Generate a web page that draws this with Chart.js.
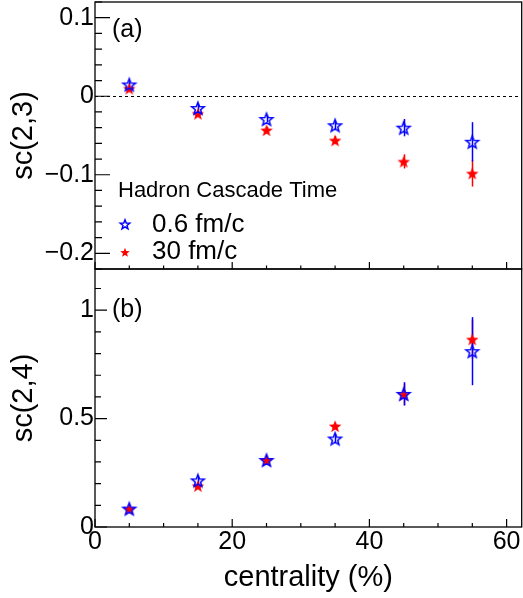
<!DOCTYPE html>
<html><head><meta charset="utf-8">
<script src="https://cdn.jsdelivr.net/npm/chart.js@4/dist/chart.umd.min.js"></script>
<style>
html,body{margin:0;padding:0;background:#fff;}
#wrap{position:relative;width:523px;height:598px;overflow:hidden;background:#fff;}
#c1{position:absolute;left:0;top:0;}
#c2{position:absolute;left:0;top:266px;}
</style></head><body>
<div id="wrap">
<canvas id="c1" width="523" height="272" style="width:523px;height:272px"></canvas>
<canvas id="c2" width="523" height="332" style="width:523px;height:332px"></canvas>
</div>
<script>
// ---- data ----
const centrality = [5, 15, 25, 35, 45, 55];
const seriesNames = ['0.6 fm/c', '30 fm/c'];
const legendTitle = 'Hadron Cascade Time';
// panel (a): sc(2,3)
const sc23_06 = [0.015, -0.015, -0.029, -0.037, -0.040, -0.058];
const sc23_06_err = [0.004, 0.004, 0.004, 0.005, 0.011, 0.025];
const sc23_30 = [0.010, -0.022, -0.043, -0.056, -0.083, -0.098];
const sc23_30_err = [0.003, 0.003, 0.004, 0.005, 0.009, 0.017];
// panel (b): sc(2,4)
const sc24_06 = [0.085, 0.215, 0.309, 0.408, 0.614, 0.811];
const sc24_06_err = [0.010, 0.015, 0.010, 0.020, 0.054, 0.157];
const sc24_30 = [0.084, 0.190, 0.309, 0.466, 0.612, 0.866];
const sc24_30_err = [0.006, 0.010, 0.010, 0.012, 0.050, 0.090];
// axes
const xMajorLabels = [0, 20, 40, 60];
const yMajorA = [-0.2, -0.1, 0, 0.1];
const yMajorB = [0, 0.5, 1];

const FONT = '"Liberation Sans", Arial, Helvetica, sans-serif';
Chart.defaults.font.family = FONT;
Chart.defaults.color = '#000';

const BLUE = '#0000ff', RED = '#ff0000';

function makeStar(R, color, filled) {
  const s = Math.ceil(2 * R + 4);
  const c = document.createElement('canvas');
  c.width = s; c.height = s;
  const g = c.getContext('2d');
  g.beginPath();
  for (let k = 0; k < 10; k++) {
    const r = (k % 2) ? R * 0.42 : R;
    const ang = -Math.PI / 2 + k * Math.PI / 5;
    g.lineTo(s / 2 + r * Math.cos(ang), s / 2 + 0.8 + r * Math.sin(ang));
  }
  g.closePath();
  if (filled) { g.fillStyle = color; g.fill(); }
  else { g.strokeStyle = color; g.lineWidth = 1.5; g.stroke(); }
  return c;
}
const starBlue = makeStar(6.6, BLUE, false);
const starRed = makeStar(6.6, RED, true);
const starBlueL = makeStar(5, BLUE, false);
const starRedL = makeStar(5, RED, true);

function pts(ys) { return centrality.map((x, i) => ({x: x, y: ys[i]})); }
function fmt(v) {
  const r = Math.round(v * 100) / 100;
  if (r === 0) return '0';
  return (r < 0 ? '\u2212' : '') + String(Math.abs(r));
}
function isIn(v, list) { return list.some(m => Math.abs(m - v) < 1e-6); }
function noPad(s) { s.paddingTop = 0; s.paddingBottom = 0; s.paddingLeft = 0; s.paddingRight = 0; }

const rootPlugin = {
  id: 'rootStyle',
  beforeDatasetsDraw(chart, args, o) {
    const ctx = chart.ctx, a = chart.chartArea;
    const xs = chart.scales.x, ys = chart.scales.y;
    ctx.save();
    if (o.zeroLine) {
      ctx.strokeStyle = '#000'; ctx.lineWidth = 1; ctx.setLineDash([3, 3]);
      const y0 = Math.round(ys.getPixelForValue(0)) + 0.5;
      ctx.beginPath(); ctx.moveTo(a.left, y0); ctx.lineTo(a.right, y0); ctx.stroke();
      ctx.setLineDash([]);
    }
    for (let d = chart.data.datasets.length - 1; d >= 0; d--) {
      const ds = chart.data.datasets[d];
      ctx.strokeStyle = ds.errColor; ctx.lineWidth = 1.5;
      ds.data.forEach((p, i) => {
        const e = ds.errors[i];
        const px = Math.round(xs.getPixelForValue(p.x)) + 0.5;
        ctx.beginPath();
        ctx.moveTo(px, ys.getPixelForValue(p.y - e));
        ctx.lineTo(px, ys.getPixelForValue(p.y + e));
        ctx.stroke();
      });
    }
    ctx.restore();
  },
  afterDraw(chart, args, o) {
    const ctx = chart.ctx, a = chart.chartArea;
    const xs = chart.scales.x, ys = chart.scales.y;
    ctx.save();
    ctx.strokeStyle = '#000'; ctx.lineWidth = 1.3;
    ctx.strokeRect(a.left, a.top, a.right - a.left, a.bottom - a.top);
    ctx.lineWidth = 1.2;
    ctx.beginPath();
    ys.ticks.forEach(t => {
      const py = ys.getPixelForValue(t.value);
      const len = isIn(t.value, o.yMajor) ? o.yMajorLen : o.yMinorLen;
      ctx.moveTo(a.left, py); ctx.lineTo(a.left + len, py);
    });
    xs.ticks.forEach(t => {
      const px = xs.getPixelForValue(t.value);
      const len = isIn(t.value, xMajorLabels) ? o.xMajorLen : o.xMinorLen;
      ctx.moveTo(px, a.bottom); ctx.lineTo(px, a.bottom - len);
    });
    ctx.stroke();
    ctx.fillStyle = '#000';
    ctx.font = '25px ' + FONT;
    ctx.textBaseline = 'alphabetic'; ctx.textAlign = 'left';
    ctx.fillText(o.panel, a.left + 17, a.top + o.panelDy);
    if (o.legend) {
      ctx.font = '22px ' + FONT;
      ctx.fillText(legendTitle, a.left + 23, a.top + 195);
      ctx.font = '26px ' + FONT;
      ctx.drawImage(starBlueL, a.left + 30 - starBlueL.width / 2, a.top + 222 - starBlueL.height / 2);
      ctx.fillText(seriesNames[0], a.left + 57, a.top + 230);
      ctx.drawImage(starRedL, a.left + 30 - starRedL.width / 2, a.top + 250 - starRedL.height / 2);
      ctx.fillText(seriesNames[1], a.left + 57, a.top + 257);
    }
    ctx.restore();
  }
};

function makeChart(id, cfg) {
  return new Chart(document.getElementById(id), {
    type: 'scatter',
    data: {
      datasets: [
        {label: seriesNames[0], data: pts(cfg.blue), errors: cfg.blueErr, errColor: BLUE,
         pointStyle: starBlue, pointRadius: 7, pointHoverRadius: 7, showLine: false},
        {label: seriesNames[1], data: pts(cfg.red), errors: cfg.redErr, errColor: RED,
         pointStyle: starRed, pointRadius: 7, pointHoverRadius: 7, showLine: false}
      ]
    },
    options: {
      responsive: false, animation: false, devicePixelRatio: 1,
      layout: {padding: cfg.padding, autoPadding: false},
      plugins: {
        legend: {display: false}, tooltip: {enabled: false},
        rootStyle: cfg.style
      },
      scales: {
        x: {
          type: 'linear', min: 0, max: 62.2,
          grid: {display: false, drawTicks: false}, border: {display: false},
          ticks: {display: cfg.xLabels, stepSize: 5, autoSkip: false, maxRotation: 0, includeBounds: false,
                  padding: 0, font: {size: 25}, color: '#000',
                  callback: v => isIn(v, xMajorLabels) ? String(v) : ''},
          title: {display: cfg.xLabels, text: 'centrality (%)', font: {size: 29}, color: '#000', padding: {top: 0, bottom: 3}},
          afterFit: s => { s.height = cfg.xHeight; noPad(s); }
        },
        y: {
          type: 'linear', min: cfg.ymin, max: cfg.ymax,
          grid: {display: false, drawTicks: false}, border: {display: false},
          ticks: {stepSize: cfg.ystep, autoSkip: false, includeBounds: false, padding: 1,
                  font: {size: 25}, color: '#000',
                  callback: v => isIn(v, cfg.style.yMajor) ? fmt(v) : ''},
          title: {display: true, text: cfg.ytitle, font: {size: 29}, color: '#000', padding: {top: 7, bottom: 0}},
          afterFit: s => { s.width = 95; noPad(s); }
        }
      }
    },
    plugins: [rootPlugin]
  });
}

makeChart('c1', {
  blue: sc23_06, blueErr: sc23_06_err, red: sc23_30, redErr: sc23_30_err,
  ymin: -0.22, ymax: 0.12, ystep: 0.02, ytitle: 'sc(2,3)',
  xLabels: false, xHeight: 0,
  padding: {top: 2, right: 1.3, bottom: 3, left: 0},
  style: {zeroLine: true, yMajor: yMajorA, yMajorLen: 15, yMinorLen: 7, xMajorLen: 7, xMinorLen: 3.5,
          panel: '(a)', panelDy: 35, legend: true}
});
makeChart('c2', {
  blue: sc24_06, blueErr: sc24_06_err, red: sc24_30, redErr: sc24_30_err,
  ymin: 0, ymax: 1.19, ystep: 0.1, ytitle: 'sc(2,4)',
  xLabels: true, xHeight: 71,
  padding: {top: 3, right: 1.3, bottom: 0, left: 0},
  style: {zeroLine: false, yMajor: yMajorB, yMajorLen: 12, yMinorLen: 6, xMajorLen: 8, xMinorLen: 4,
          panel: '(b)', panelDy: 48, legend: false}
});
</script>
</body></html>
